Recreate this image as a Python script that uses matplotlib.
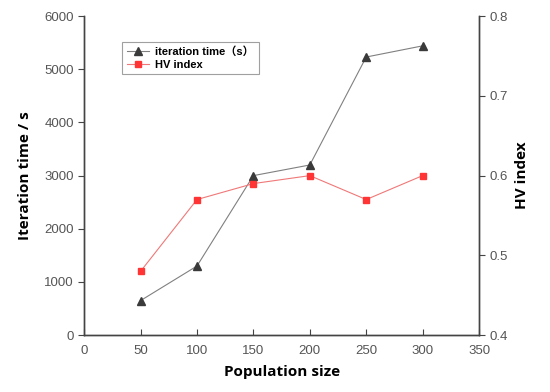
import matplotlib
matplotlib.use("Agg")
import matplotlib.pyplot as plt

# Data
pop_size = [50, 100, 150, 200, 250, 300]
iter_time = [650, 1300, 3000, 3200, 5230, 5440]
hv_index = [0.48, 0.57, 0.59, 0.60, 0.57, 0.60]

tick_font = {"family": "Liberation Sans", "size": 9.5, "color": "#555555"}
label_font = {"family": "Open Sans", "weight": "bold", "size": 11}

fig = plt.figure(figsize=(5.5, 3.92), dpi=100)
ax = fig.add_axes([0.153, 0.145, 0.718, 0.814])
ax2 = ax.twinx()

l1, = ax.plot(pop_size, iter_time, color="#808080", lw=0.8, marker="^",
              ms=5.5, mfc="#3a3a3a", mec="#3a3a3a", label="iteration time\uff08s\uff09")
l2, = ax2.plot(pop_size, hv_index, color="#f07878", lw=0.8, marker="s",
               ms=4.5, mfc="#ff3535", mec="#ff3535", label="HV index")

ax.set_xlim(0, 350)
ax.set_ylim(0, 6000)
ax2.set_ylim(0.4, 0.8)
ax.set_xticks(range(0, 351, 50))
ax.set_yticks(range(0, 6001, 1000))
ax2.set_yticks([0.4, 0.5, 0.6, 0.7, 0.8])

for a in (ax, ax2):
    a.spines["top"].set_visible(False)
    for s in a.spines.values():
        s.set_color("#444444")
        s.set_linewidth(1.0)
ax.tick_params(axis="x", direction="in", length=4, color="#444444", pad=7)
ax.tick_params(axis="y", direction="out", length=4, color="#444444")
ax2.tick_params(axis="y", direction="out", length=4, color="#444444")
for lab in ax.get_xticklabels() + ax.get_yticklabels() + ax2.get_yticklabels():
    lab.set_fontfamily(tick_font["family"])
    lab.set_fontsize(tick_font["size"])
    lab.set_color(tick_font["color"])

ax.set_xlabel("Population size", fontdict=label_font, labelpad=6)
ax.set_ylabel("Iteration time / s", fontdict=label_font, labelpad=9)
ax2.set_ylabel("HV index", fontdict=label_font, labelpad=5)

leg = ax.legend(handles=[l1, l2], loc="upper left", bbox_to_anchor=(0.096, 0.918),
                prop={"family": ["Liberation Sans", "Noto Sans CJK SC"], "weight": "bold", "size": 8},
                frameon=True, fancybox=False, edgecolor="#888888", handlelength=2.0,
                handletextpad=0.6, borderpad=0.4, labelspacing=0.2, borderaxespad=0)
leg.get_frame().set_linewidth(0.8)

fig.savefig("out.png", dpi=100)
